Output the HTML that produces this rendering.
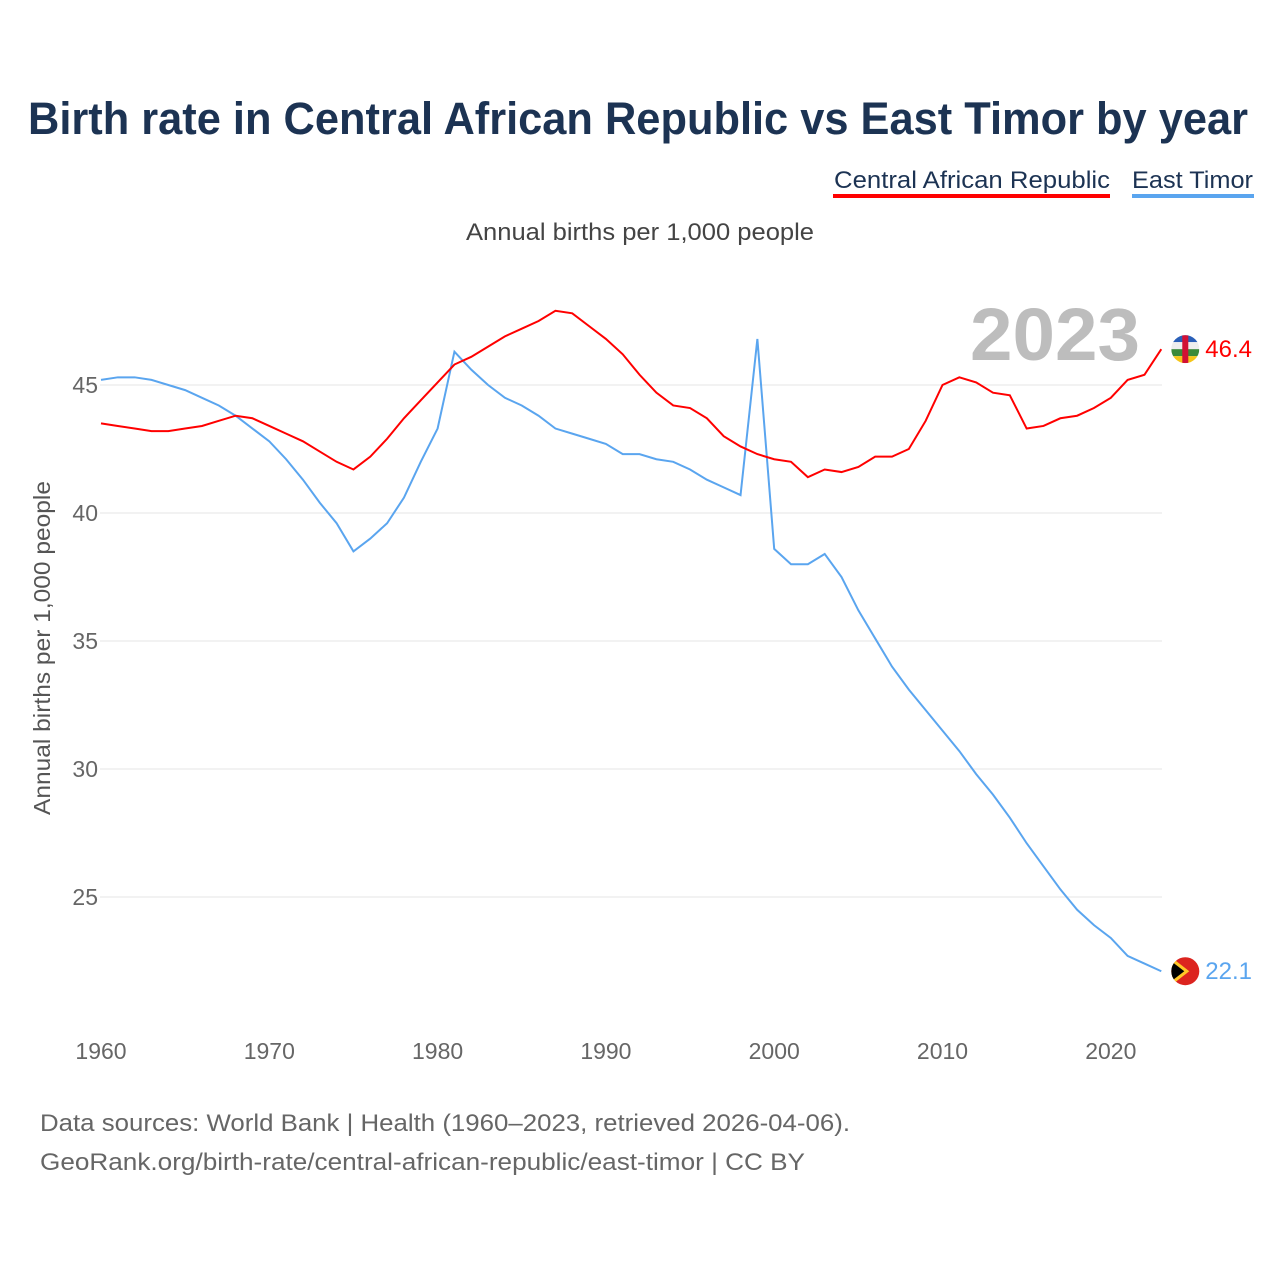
<!DOCTYPE html>
<html><head><meta charset="utf-8"><style>
body{margin:0;background:#fff;font-family:"Liberation Sans",sans-serif;}
svg{display:block}
</style></head><body>
<svg width="1280" height="1280" viewBox="0 0 1280 1280" id="chart">
<text x="638" y="134" text-anchor="middle" font-size="45" font-weight="bold" fill="#1c3353" textLength="1220" lengthAdjust="spacingAndGlyphs">Birth rate in Central African Republic vs East Timor by year</text>
<g><text x="1110" y="188" text-anchor="end" font-size="24" fill="#1c3353" textLength="276" lengthAdjust="spacingAndGlyphs">Central African Republic</text><rect x="833" y="194" width="277" height="4" fill="#ff0000"/></g>
<g><text x="1253" y="188" text-anchor="end" font-size="24" fill="#1c3353" textLength="121" lengthAdjust="spacingAndGlyphs">East Timor</text><rect x="1132" y="194" width="122" height="4" fill="#5aa5ef"/></g>
<text x="640" y="240" text-anchor="middle" font-size="24" fill="#444" textLength="348" lengthAdjust="spacingAndGlyphs">Annual births per 1,000 people</text>
<text x="1140" y="360" text-anchor="end" font-size="74" font-weight="bold" fill="#bdbdbd" textLength="170" lengthAdjust="spacingAndGlyphs">2023</text>
<text transform="translate(50,648) rotate(-90)" text-anchor="middle" font-size="23" fill="#555" textLength="334" lengthAdjust="spacingAndGlyphs">Annual births per 1,000 people</text>
<g id="grid"></g><g id="xt"></g><g id="lines"></g><g id="ends"></g>
<text x="40" y="1131" font-size="24" fill="#666" textLength="810" lengthAdjust="spacingAndGlyphs">Data sources: World Bank | Health (1960–2023, retrieved 2026-04-06).</text>
<text x="40" y="1170" font-size="24" fill="#666" textLength="765" lengthAdjust="spacingAndGlyphs">GeoRank.org/birth-rate/central-african-republic/east-timor | CC BY</text>
</svg>
<script>
const years=[];for(let y=1960;y<=2023;y++)years.push(y);
const carValues=[43.5,43.4,43.3,43.2,43.2,43.3,43.4,43.6,43.8,43.7,43.4,43.1,42.8,42.4,42.0,41.7,42.2,42.9,43.7,44.4,45.1,45.8,46.1,46.5,46.9,47.2,47.5,47.9,47.8,47.3,46.8,46.2,45.4,44.7,44.2,44.1,43.7,43.0,42.6,42.3,42.1,42.0,41.4,41.7,41.6,41.8,42.2,42.2,42.5,43.6,45.0,45.3,45.1,44.7,44.6,43.3,43.4,43.7,43.8,44.1,44.5,45.2,45.4,46.4];
const tlValues=[45.2,45.3,45.3,45.2,45.0,44.8,44.5,44.2,43.8,43.3,42.8,42.1,41.3,40.4,39.6,38.5,39.0,39.6,40.6,42.0,43.3,46.3,45.6,45.0,44.5,44.2,43.8,43.3,43.1,42.9,42.7,42.3,42.3,42.1,42.0,41.7,41.3,41.0,40.7,46.8,38.6,38.0,38.0,38.4,37.5,36.2,35.1,34.0,33.1,32.3,31.5,30.7,29.8,29.0,28.1,27.1,26.2,25.3,24.5,23.9,23.4,22.7,22.4,22.1];
const yTicks=[25,30,35,40,45];
const xTicks=[1960,1970,1980,1990,2000,2010,2020];
const NS="http://www.w3.org/2000/svg";
const X=y=>101+(y-1960)*16.83;
const Y=v=>385-(v-45)*25.6;
function mk(t,a,p){const e=document.createElementNS(NS,t);for(const k in a)e.setAttribute(k,a[k]);p.appendChild(e);return e;}
const grid=document.getElementById('grid');
yTicks.forEach(v=>{
 const l=mk('line',{x1:100,x2:1162,y1:Y(v),y2:Y(v),stroke:'#e6e6e6'},grid);
 
 
 const t=mk('text',{x:98,y:Y(v)+8,'text-anchor':'end','font-size':23,fill:'#666'},grid);t.textContent=v;
 
 
});
const xt=document.getElementById('xt');
xTicks.forEach(v=>{
 const t=mk('text',{x:X(v),y:1059,'text-anchor':'middle','font-size':23,fill:'#666'},xt);t.textContent=v;
 
 
});
const lines=document.getElementById('lines');
function line(vals,col,name){
 const p=mk('polyline',{points:vals.map((v,i)=>X(years[i])+','+Y(v)).join(' '),fill:'none',stroke:col,'stroke-width':2},lines);
 
 
}
line(tlValues,'#5aa5ef','line-east-timor');
line(carValues,'#ff0000','line-car');
const ends=document.getElementById('ends');
function end(v,col,name,flag){
 const x=X(2023)+24,y=Y(v);
 const g=mk('g',{},ends);
 
 
 if(flag==='car'){
  mk('clipPath',{id:'cc'},g);mk('circle',{cx:x,cy:y,r:14},g.lastChild);
  const f=mk('g',{'clip-path':'url(#cc)'},g);
  ['#2a5fb8','#eeeeee','#3a8a3a','#f5c518'].forEach((c,i)=>mk('rect',{x:x-14,y:y-14+i*7,width:28,height:7,fill:c},f));
  mk('rect',{x:x-3,y:y-14,width:6,height:28,fill:'#d21034'},f);
 }else{
  mk('circle',{cx:x,cy:y,r:14,fill:'#dc241f'},g);
  mk('clipPath',{id:'tc'},g);mk('circle',{cx:x,cy:y,r:14},g.lastChild);
  const f=mk('g',{'clip-path':'url(#tc)'},g);
  mk('polygon',{points:`${x-14},${y-14} ${x+4},${y} ${x-14},${y+14}`,fill:'#ffc726'},f);
  mk('polygon',{points:`${x-14},${y-10} ${x-1},${y} ${x-14},${y+10}`,fill:'#000'},f);
 }
 const t=mk('text',{x:x+20,y:y+8,'font-size':24,fill:col},g);t.textContent=v.toFixed(1);
}
end(carValues[63],'#ff0000','end-label-car','car');
end(tlValues[63],'#5aa5ef','end-label-east-timor','tl');
</script>
</body></html>
